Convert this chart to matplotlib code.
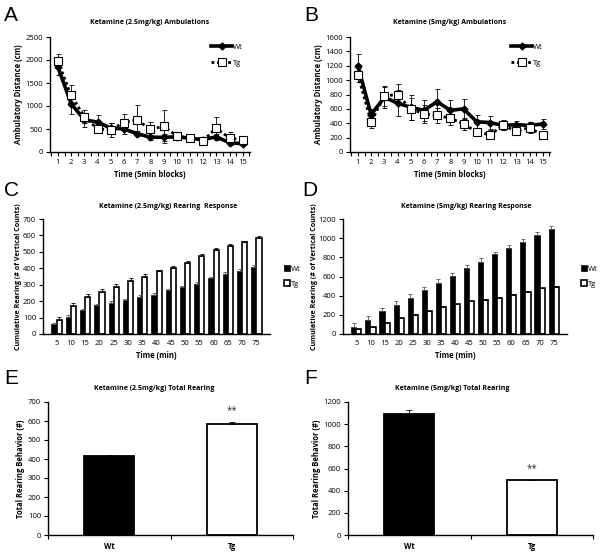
import matplotlib
matplotlib.use("Agg")
import matplotlib.pyplot as plt
import numpy as np

plt.rcParams['font.family'] = ['Open Sans', 'DejaVu Sans']
plt.rcParams['font.size'] = 5.5

# --- data ---
blocks = list(range(1, 15 + 1))
minutes = [5, 10, 15, 20, 25, 30, 35, 40, 45, 50, 55, 60, 65, 70, 75]

# A: ketamine 2.5 mg/kg ambulations
amb25_wt = [1850, 1050, 700, 650, 520, 500, 400, 320, 320, 330, 300, 270, 330, 200, 180]
amb25_wt_err = [180, 230, 150, 150, 100, 100, 60, 60, 80, 40, 30, 30, 60, 40, 30]
amb25_tg = [1970, 1230, 770, 500, 480, 640, 700, 490, 560, 350, 300, 250, 520, 300, 270]
amb25_tg_err = [150, 230, 150, 80, 150, 180, 330, 170, 360, 30, 30, 20, 240, 140, 30]

# B: ketamine 5 mg/kg ambulations
amb5_wt = [1200, 520, 760, 680, 620, 580, 700, 580, 600, 420, 410, 370, 380, 370, 390]
amb5_wt_err = [160, 80, 150, 180, 180, 150, 170, 150, 140, 90, 90, 60, 50, 50, 70]
amb5_tg = [1070, 420, 780, 800, 600, 530, 510, 470, 390, 280, 240, 370, 290, 340, 230]
amb5_tg_err = [100, 90, 140, 140, 150, 130, 100, 100, 80, 60, 60, 70, 40, 80, 40]

# C: ketamine 2.5 mg/kg cumulative rearing
rear25_wt = [60, 105, 145, 175, 190, 205, 225, 240, 265, 285, 305, 340, 365, 385, 410]
rear25_wt_err = [8, 8, 10, 10, 10, 10, 10, 10, 10, 10, 10, 10, 10, 10, 10]
rear25_tg = [85, 170, 225, 258, 285, 323, 350, 382, 402, 433, 473, 512, 537, 560, 585]
rear25_tg_err = [18, 20, 20, 18, 18, 15, 15, 8, 12, 12, 12, 10, 12, 8, 12]

# D: ketamine 5 mg/kg cumulative rearing
rear5_wt = [75, 150, 235, 300, 380, 455, 535, 605, 685, 755, 830, 895, 965, 1030, 1095]
rear5_wt_err = [35, 40, 35, 40, 40, 35, 35, 30, 35, 35, 30, 35, 30, 30, 35]
rear5_tg = [50, 70, 115, 165, 200, 240, 280, 310, 340, 360, 380, 410, 440, 475, 495]
rear5_tg_err = [5, 5, 5, 5, 5, 5, 5, 5, 5, 5, 5, 5, 5, 5, 5]

# E / F: total rearing
groups = ['Wt', 'Tg']
total25 = [415, 585]
total25_err = [5, 12]
total5 = [1095, 495]
total5_err = [35, 5]

W, H = 600, 555
fig = plt.figure(figsize=(W / 100, H / 100), dpi=100)


def add_ax(l, t, r, b):
    return fig.add_axes([l / W, 1 - b / H, (r - l) / W, (b - t) / H])


def style(ax):
    for s in ['top', 'right']:
        ax.spines[s].set_visible(False)
    for s in ['left', 'bottom']:
        ax.spines[s].set_linewidth(1.0)
    ax.tick_params(direction='out', length=3, width=0.8, labelsize=5.5, pad=2)


def panel_letter(x, y, s):
    fig.text(x / W, 1 - y / H, s, fontsize=15, family='Liberation Sans', va='top', ha='left')


def line_panel(ax, wt, wt_err, tg, tg_err, ymax, ystep, title):
    x = np.array(blocks)
    ax.errorbar(x, tg, yerr=tg_err, fmt='none', ecolor='black', elinewidth=0.6, capsize=1.8, capthick=0.6, zorder=2)
    ax.errorbar(x, wt, yerr=wt_err, fmt='none', ecolor='black', elinewidth=0.6, capsize=1.8, capthick=0.6, zorder=2)
    ax.plot(x, wt, color='black', lw=2.6, marker='D', ms=3.5, label='Wt', zorder=3)
    ax.plot(x, tg, color='black', lw=2.0, ls=(0, (1, 1)), marker='s', ms=5.5, mfc='white', mec='black',
            mew=0.8, label='Tg', zorder=4)
    ax.set_xlim(0.4, 15.55)
    ax.set_ylim(0, ymax)
    ax.set_xticks(blocks)
    ax.set_xticks(np.arange(0.5, 15.6, 1), minor=True)
    ax.set_yticks(np.arange(0, ymax + 1, ystep))
    style(ax)
    ax.tick_params(axis='x', which='minor', direction='out', length=3, width=0.8)
    ax.set_xlabel('Time (5min blocks)', fontsize=5.5, fontweight='bold', labelpad=3)
    ax.set_ylabel('Ambulatory Distance (cm)', fontsize=5.5, fontweight='bold', labelpad=2)
    ax.set_title(title, fontsize=5.0, fontweight='bold', pad=9)
    ax.legend(loc='upper right', bbox_to_anchor=(0.98, 0.97), frameon=False, fontsize=5.5,
              handlelength=2.8, labelspacing=1.1, handletextpad=0.1, borderaxespad=0)


def rear_panel(ax, wt, wt_err, tg, tg_err, ymax, ystep, title):
    x = np.arange(len(minutes))
    w = 0.36
    ax.bar(x - w / 2, wt, w, color='black', edgecolor='black', lw=0.5,
           yerr=[np.zeros(len(wt)), wt_err], error_kw=dict(elinewidth=0.6, capsize=1.5, capthick=0.6, ecolor='#555555'),
           label='Wt')
    ax.bar(x + w / 2, tg, w, color='white', edgecolor='black', lw=1.2,
           yerr=[np.zeros(len(tg)), tg_err], error_kw=dict(elinewidth=0.6, capsize=1.5, capthick=0.6, ecolor='black'),
           label='Tg')
    ax.set_xlim(-0.95, 14.95)
    ax.set_ylim(0, ymax)
    ax.set_xticks(x)
    ax.set_xticklabels([str(m) for m in minutes])
    ax.set_yticks(np.arange(0, ymax + 1, ystep))
    style(ax)
    ax.tick_params(axis='x', length=0, pad=4)
    ax.set_xlabel('Time (min)', fontsize=5.5, fontweight='bold', labelpad=3)
    ax.set_ylabel('Cumulative Rearing (# of Vertical Counts)', fontsize=5.1, fontweight='bold', labelpad=0.5)
    ax.text(0.55, 1.1, title, transform=ax.transAxes, fontsize=5.0, fontweight='bold', ha='center')
    ax.legend(loc='center left', bbox_to_anchor=(1.03, 0.5), frameon=False, fontsize=5.5,
              handlelength=0.8, handleheight=0.8, labelspacing=0.9, handletextpad=0.2)


def total_panel(ax, vals, errs, ymax, ystep, title, tx):
    x = np.arange(len(groups))
    ax.bar(x, vals, 0.41, color=['black', 'white'], edgecolor='black', lw=1.3,
           yerr=[np.zeros(len(vals)), errs],
           error_kw=dict(elinewidth=0.6, capsize=2, capthick=0.6, ecolor='black'))
    ax.set_xlim(-0.5, 1.5)
    ax.set_ylim(0, ymax)
    ax.set_xticks(x)
    ax.set_xticklabels(groups, fontweight='bold')
    ax.set_xticks([-0.5, 0.5, 1.5], minor=True)
    ax.set_yticks(np.arange(0, ymax + 1, ystep))
    style(ax)
    ax.tick_params(axis='x', which='major', length=0, pad=5)
    ax.tick_params(axis='x', which='minor', length=3, width=0.8)
    ax.set_ylabel('Total Rearing Behavior (#)', fontsize=5.5, fontweight='bold', labelpad=2)
    fig.text(tx / W, 1 - 390 / H, title, fontsize=5.0, fontweight='bold', ha='center')
    ax.annotate('**', (x[1], vals[1] + errs[1]), xytext=(0, 4), textcoords='offset points',
                ha='center', va='bottom', fontsize=7, color='#333333')


axA = add_ax(50, 37, 250, 152)
line_panel(axA, amb25_wt, amb25_wt_err, amb25_tg, amb25_tg_err, 2500, 500, 'Ketamine (2.5mg/kg) Ambulations')
axB = add_ax(350, 37, 550, 152)
line_panel(axB, amb5_wt, amb5_wt_err, amb5_tg, amb5_tg_err, 1600, 200, 'Ketamine (5mg/kg) Ambulations')

axC = add_ax(43, 219, 270, 334)
rear_panel(axC, rear25_wt, rear25_wt_err, rear25_tg, rear25_tg_err, 700, 100, 'Ketamine (2.5mg/kg) Rearing  Response')
axD = add_ax(343, 219, 567, 334)
rear_panel(axD, rear5_wt, rear5_wt_err, rear5_tg, rear5_tg_err, 1200, 200, 'Ketamine (5mg/kg) Rearing Response')

axE = add_ax(48, 402, 293, 535)
total_panel(axE, total25, total25_err, 700, 100, 'Ketamine (2.5mg/kg) Total Rearing', 154)
axF = add_ax(348, 402, 593, 535)
total_panel(axF, total5, total5_err, 1200, 200, 'Ketamine (5mg/kg) Total Rearing', 452)

panel_letter(4, 6, 'A')
panel_letter(304, 6, 'B')
panel_letter(4, 181, 'C')
panel_letter(302, 181, 'D')
panel_letter(4, 369, 'E')
panel_letter(304, 369, 'F')

fig.savefig('out.png', dpi=100)
